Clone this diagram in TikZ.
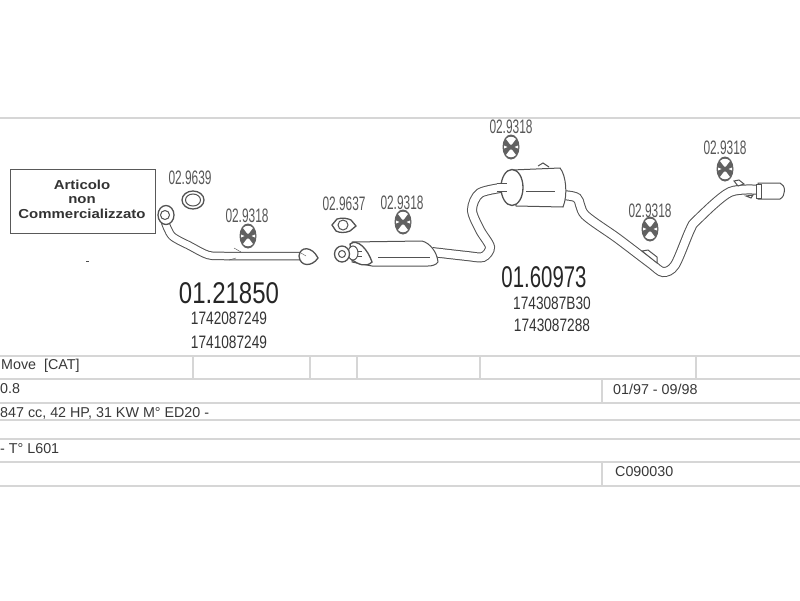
\documentclass[tikz,border=0pt]{standalone}
\usepackage{fontspec}
\setmainfont{Liberation Sans}
\newfontfamily\partfont[FakeStretch=0.76]{Liberation Sans}
\newfontfamily\labelfont[FakeStretch=0.61]{Liberation Sans}
\newfontfamily\mainfont[FakeStretch=0.80]{Liberation Sans}
\newfontfamily\slimfont[FakeStretch=0.68]{Liberation Sans}
\newfontfamily\widefont[FakeStretch=1.15]{Liberation Sans}
\usepackage{tikz}
\tikzset{
  rule/.style={draw=black!16, line width=1.4pt},
  pipe/.style={draw=black!68, line width=1pt, double=white, double distance=#1},
  pipe/.default=6pt,
  part/.style={draw=black!68, line width=1pt, fill=white},
  code/.style={font=\labelfont\fontsize{19.5}{19.5}\selectfont, text=black!66, inner sep=0pt},
  refcode/.style={font=\partfont\fontsize{18}{18}\selectfont, text=black!80, inner sep=0pt},
  mainref/.style={font=\mainfont\fontsize{30}{30}\selectfont, text=black!85, inner sep=0pt},
  mainrefb/.style={font=\slimfont\fontsize{30}{30}\selectfont, text=black!85, inner sep=0pt},
  row/.style={font=\fontsize{14.3}{14.3}\selectfont, text=black!78, anchor=west, inner sep=0pt},
  notice/.style={font=\widefont\bfseries\fontsize{13}{13}\selectfont, text=black!80, inner sep=0pt},
  hanger/.pic={
    \fill[black!62] (0,0) ellipse (8.5 and 12.5);
    \fill[white] (-5,-8) .. controls (-2,-11) and (2,-11) .. (5,-8) -- (0.8,-2.5) -- (-0.8,-2.5) -- cycle;
    \fill[white] (-5,8) .. controls (-2,11) and (2,11) .. (5,8) -- (0.8,2.5) -- (-0.8,2.5) -- cycle;
    \fill[white] (-7,-1.5) -- (-3.5,0) -- (-7,1.5) -- cycle;
    \fill[white] (7,-1.5) -- (3.5,0) -- (7,1.5) -- cycle;
  }
}
\begin{document}
\begin{tikzpicture}[x=1pt, y=-1pt]
\useasboundingbox (0,0) rectangle (800,600);
\fill[white] (0,0) rectangle (800,600);
\foreach \y in {118,356,379,403,420,439,462,486} \draw[rule] (0,\y)--(800,\y);
\foreach \x in {193,310,357,480,696} \draw[rule] (\x,356)--(\x,379);
\draw[rule] (602,379)--(602,403);
\draw[rule] (602,462)--(602,486);
\node[draw=black!65, line width=1pt, minimum width=145pt, minimum height=64pt, anchor=north west] (box) at (10,169) {};
\node[notice] (noticeA) at (82,185) {Articolo};
\node[notice] (noticeB) at (82,200) {non};
\node[notice] (noticeC) at (82,214) {Commercializzato};
\fill[black!70] (86,260.5) rectangle (89,261.5);
\node[code] (labA) at (190,178) {02.9639};
\node[code] (labB) at (247,216) {02.9318};
\node[code] (labC) at (344,204) {02.9637};
\node[code] (labD) at (402,203) {02.9318};
\node[code] (labE) at (511,127) {02.9318};
\node[code] (labF) at (650,211) {02.9318};
\node[code] (labG) at (725,148) {02.9318};
\node[mainref] (refA) at (229,293) {01.21850};
\node[refcode] (refB) at (229,318) {1742087249};
\node[refcode] (refC) at (229,342) {1741087249};
\node[mainrefb] (refD) at (544,277) {01.60973};
\node[refcode] (refE) at (552,303) {1743087B30};
\node[refcode] (refF) at (552,325) {1743087288};
\node[row] (rowA) at (1,366) {Move\ \ [CAT]};
\node[row] (rowB) at (0,389) {0.8};
\node[row] (rowC) at (0,413) {847 cc, 42 HP, 31 KW M° ED20 -};
\node[row] (rowD) at (0,449) {- T° L601};
\node[row] (rowE) at (613,389) {01/97 - 09/98};
\node[row] (rowF) at (615,472) {C090030};
\draw[part, line width=1.3pt] (193,200) ellipse (11 and 9);
\draw[part] (193,200) ellipse (7.5 and 6);
\draw[pipe=6.5pt] plot[smooth] coordinates {(165,222) (172,236) (190,246) (208,255) (225,256) (305,256)};
\draw[part, line width=1.3pt] (166,215) ellipse (8 and 9.5);
\draw[part] (165,215) circle (4.5);
\draw[part, line width=1.3pt] (299,256) .. controls (300,246) and (312,246) .. (318,258) .. controls (312,267) and (300,267) .. (299,256) -- cycle;
\draw[black!68] (306,256) -- (301,253);
\draw[black!68] (234,248) -- (241,252);
\draw[black!68] (229,260) -- (236,258);
\pic at (248,236) {hanger};
\pic at (403,222) {hanger};
\pic at (511,147) {hanger};
\pic at (650,229) {hanger};
\pic at (725,169) {hanger};
\draw[part, line width=1.3pt] (332,225) -- (337,219) .. controls (343,217) and (349,219) .. (351,220) -- (356,226) -- (350,231) .. controls (345,233) and (340,233) .. (336,231) -- cycle;
\draw[part] (343,225) circle (5);
\draw[pipe=8pt] plot[smooth] coordinates {(432,252) (467,256) (483,257) (490,247) (480,230) (472,210) (480,193) (507,187)};
\draw[part] (352,242) -- (422,241) .. controls (430,243) and (437,252) .. (438,262) .. controls (436,265) and (432,266) .. (428,266) -- (372,266) -- (352,262) -- cycle;
\draw[black!68] (378,257) -- (430,257);
\draw[part, line width=1.3pt] (350,244) .. controls (358,238) and (368,250) .. (372,262) .. controls (366,268) and (358,264) .. (352,260) -- cycle;
\draw[pipe=4pt] (345,254) -- (362,254);
\draw[part] (353,253) ellipse (5 and 7);
\draw[part, line width=1.3pt] (342,254) ellipse (7.5 and 8);
\draw[part] (342,254) circle (3.5);
\draw[pipe=8pt] plot[smooth] coordinates {(560,195) (577,198) (585,215) (617,238) (650,263) (663,272) (675,265) (690,230) (697,220) (730,192) (762,190)};
\draw[part] (512,170) -- (560,168) .. controls (566,175) and (568,195) .. (563,207) -- (516,206) -- cycle;
\draw[black!68] (526,191) -- (555,191);
\draw[part, line width=1.3pt] (512,187.5) ellipse (11 and 18);
\draw[pipe=7pt] (497,187) -- (507,187);
\draw[part] (538,166) -- (543,163) -- (549,167);
\draw[part] (758,183) -- (780,183) .. controls (786,185) and (786,196) .. (780,199) -- (758,199) -- cycle;
\draw[part] (756,184) rectangle (761,198);
\draw[part] (734,181) -- (739,180) -- (744,184) -- (738,186) -- cycle;
\draw[part] (746,196) -- (753,195) -- (751,198) -- cycle;
\draw[part] (642,251) -- (648,250) -- (657,257) -- (657,263) -- cycle;
\end{tikzpicture}
\end{document}
